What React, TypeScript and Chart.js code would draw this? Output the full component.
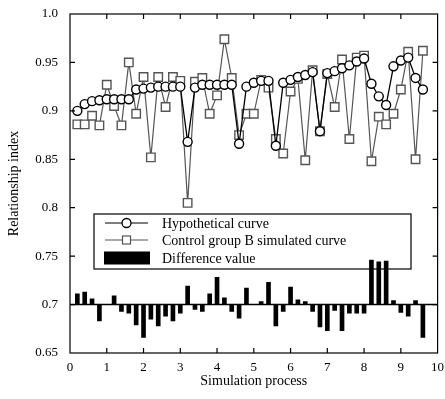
import { useEffect, useRef } from 'react';
import { Chart, registerables } from 'chart.js';

Chart.register(...registerables);

// ---- data ----
const xValues = [
  0.2, 0.4, 0.6, 0.8, 1.0, 1.2, 1.4, 1.6, 1.8, 2.0, 2.2, 2.4,
  2.6, 2.8, 3.0, 3.2, 3.4, 3.6, 3.8, 4.0, 4.2, 4.4, 4.6, 4.8,
  5.0, 5.2, 5.4, 5.6, 5.8, 6.0, 6.2, 6.4, 6.6, 6.8, 7.0, 7.2,
  7.4, 7.6, 7.8, 8.0, 8.2, 8.4, 8.6, 8.8, 9.0, 9.2, 9.4, 9.6,
];

const hypothetical = [
  0.900, 0.907, 0.910, 0.911, 0.912, 0.912, 0.912, 0.912, 0.922, 0.923, 0.924, 0.925,
  0.925, 0.925, 0.925, 0.868, 0.924, 0.927, 0.927, 0.927, 0.927, 0.927, 0.866, 0.925,
  0.929, 0.931, 0.931, 0.864, 0.929, 0.932, 0.935, 0.937, 0.940, 0.879, 0.939, 0.941,
  0.944, 0.947, 0.951, 0.954, 0.928, 0.915, 0.906, 0.946, 0.952, 0.955, 0.934, 0.922,
];

const controlB = [
  0.886, 0.886, 0.895, 0.885, 0.927, 0.905, 0.885, 0.950, 0.897, 0.935, 0.852, 0.935,
  0.904, 0.935, 0.931, 0.805, 0.930, 0.934, 0.897, 0.916, 0.974, 0.934, 0.875, 0.897,
  0.897, 0.932, 0.924, 0.871, 0.856, 0.920, 0.933, 0.849, 0.942, 0.879, 0.938, 0.904,
  0.953, 0.871, 0.955, 0.957, 0.848, 0.894, 0.886, 0.897, 0.922, 0.961, 0.850, 0.962,
];

const difference = [
  0.711, 0.713, 0.706, 0.683, 0.700, 0.709, 0.693, 0.691, 0.679, 0.666, 0.685, 0.678,
  0.688, 0.683, 0.691, 0.719, 0.695, 0.693, 0.711, 0.728, 0.707, 0.693, 0.686, 0.717,
  0.700, 0.703, 0.723, 0.678, 0.693, 0.718, 0.705, 0.703, 0.693, 0.677, 0.673, 0.694,
  0.673, 0.691, 0.691, 0.691, 0.746, 0.744, 0.745, 0.704, 0.692, 0.688, 0.704, 0.666,
];

const BASELINE = 0.7;

const xTickLabels = ['0', '1', '2', '3', '4', '5', '6', '7', '8', '9', '10'];
const yTickLabels = ['0.65', '0.7', '0.75', '0.8', '0.85', '0.9', '0.95', '1.0'];

const seriesLabels = ['Hypothetical curve', 'Control group B simulated curve', 'Difference value'];
const xTitle = 'Simulation process';
const yTitle = 'Relationship index';

const FONT = "'Liberation Serif', 'Times New Roman', serif";
const GRAY = '#555555';

// frame with inward ticks + baseline
const framePlugin = {
  id: 'frameTicks',
  beforeDatasetsDraw(chart: any) {
    const { ctx, chartArea: a, scales } = chart;
    const y0 = scales.y.getPixelForValue(BASELINE);
    ctx.save();
    ctx.strokeStyle = '#000';
    ctx.lineWidth = 1.5;
    ctx.beginPath();
    ctx.moveTo(a.left, y0);
    ctx.lineTo(a.right, y0);
    ctx.stroke();
    ctx.restore();
  },
  afterDraw(chart: any) {
    const { ctx, chartArea: a, scales } = chart;
    const len = 5;
    ctx.save();
    ctx.strokeStyle = '#000';
    ctx.lineWidth = 1.2;
    ctx.strokeRect(a.left, a.top, a.right - a.left, a.bottom - a.top);
    ctx.beginPath();
    scales.x.ticks.forEach((t: any) => {
      const px = scales.x.getPixelForValue(t.value);
      if (px <= a.left + 1 || px >= a.right - 1) return;
      ctx.moveTo(px, a.bottom);
      ctx.lineTo(px, a.bottom - len);
      ctx.moveTo(px, a.top);
      ctx.lineTo(px, a.top + len);
    });
    scales.y.ticks.forEach((t: any) => {
      const py = scales.y.getPixelForValue(t.value);
      if (py <= a.top + 1 || py >= a.bottom - 1) return;
      ctx.moveTo(a.left, py);
      ctx.lineTo(a.left + len, py);
      ctx.moveTo(a.right, py);
      ctx.lineTo(a.right - len, py);
    });
    ctx.stroke();
    ctx.restore();
  },
};

// legend box inside the plot (no fill: the tall bars show through it)
const legendPlugin = {
  id: 'boxLegend',
  beforeDatasetsDraw(chart: any) {
    const { ctx, chartArea: a } = chart;
    const left = a.left + 24;
    const top = a.top + 200;
    const w = 317;
    const h = 55;
    const ds = chart.data.datasets;
    ctx.save();
    ctx.strokeStyle = '#000';
    ctx.lineWidth = 1.2;
    ctx.strokeRect(left, top, w, h);

    const symL = left + 11;
    const symR = left + 54;
    const symC = (symL + symR) / 2;
    const textX = left + 68;
    const rows = [top + 9, top + 26, top + 44];

    // row 1: black line + circle
    ctx.strokeStyle = '#000';
    ctx.lineWidth = 1.2;
    ctx.beginPath();
    ctx.moveTo(symL, rows[0]);
    ctx.lineTo(symR, rows[0]);
    ctx.stroke();
    ctx.beginPath();
    ctx.arc(symC, rows[0], 4.5, 0, Math.PI * 2);
    ctx.fillStyle = '#fff';
    ctx.fill();
    ctx.lineWidth = 1.3;
    ctx.stroke();

    // row 2: gray line + square
    ctx.strokeStyle = GRAY;
    ctx.lineWidth = 1.2;
    ctx.beginPath();
    ctx.moveTo(symL, rows[1]);
    ctx.lineTo(symR, rows[1]);
    ctx.stroke();
    ctx.fillStyle = '#fff';
    ctx.fillRect(symC - 4, rows[1] - 4, 8, 8);
    ctx.strokeRect(symC - 4, rows[1] - 4, 8, 8);

    // row 3: black block
    ctx.fillStyle = '#000';
    ctx.fillRect(symL - 1, rows[2] - 6.5, 46, 13);

    ctx.fillStyle = '#000';
    ctx.font = `14px ${FONT}`;
    ctx.textBaseline = 'middle';
    ctx.textAlign = 'left';
    ctx.fillText(ds[0].label, textX, rows[0] + 1);
    ctx.fillText(ds[1].label, textX, rows[1] + 1);
    ctx.fillText(ds[2].label, textX, rows[2] + 1);
    ctx.restore();
  },
};

export default function App() {
  const canvasRef = useRef<HTMLCanvasElement | null>(null);

  useEffect(() => {
    if (!canvasRef.current) return;
    Chart.defaults.font.family = FONT;
    Chart.defaults.color = '#000';

    const chart = new Chart(canvasRef.current, {
      type: 'line',
      data: {
        datasets: [
          {
            type: 'line',
            label: seriesLabels[0],
            data: xValues.map((x, i) => ({ x, y: hypothetical[i] })),
            borderColor: '#000',
            borderWidth: 1.3,
            pointStyle: 'circle',
            pointRadius: 4.5,
            pointBorderWidth: 1.4,
            pointBackgroundColor: '#fff',
            pointBorderColor: '#000',
            tension: 0,
            order: 0,
          },
          {
            type: 'line',
            label: seriesLabels[1],
            data: xValues.map((x, i) => ({ x, y: controlB[i] })),
            borderColor: GRAY,
            borderWidth: 1.2,
            pointStyle: 'rect',
            pointRadius: 6,
            pointBorderWidth: 1.4,
            pointBackgroundColor: '#fff',
            pointBorderColor: GRAY,
            tension: 0,
            order: 1,
          },
          {
            type: 'bar',
            label: seriesLabels[2],
            data: xValues.map((x, i) => ({ x, y: [BASELINE, difference[i]] })) as any,
            backgroundColor: '#000',
            borderWidth: 0,
            barThickness: 4,
            order: 2,
          },
        ],
      },
      options: {
        responsive: true,
        maintainAspectRatio: false,
        animation: false,
        layout: { padding: { top: 14, right: 5, left: 0, bottom: 0 } },
        plugins: {
          legend: { display: false },
          tooltip: { enabled: false },
        },
        scales: {
          x: {
            type: 'linear',
            min: 0,
            max: 10,
            offset: false,
            grid: { display: false, drawTicks: false },
            border: { display: false },
            ticks: {
              stepSize: 1,
              padding: 7,
              maxRotation: 0,
              autoSkip: false,
              font: { size: 13, family: FONT },
              callback: (v: any) => {
                const i = Math.round(Number(v));
                return xTickLabels[i] ?? '';
              },
            },
            title: {
              display: true,
              text: xTitle,
              font: { size: 14, family: FONT },
              padding: { top: 0, bottom: 9 },
            },
            afterFit: (s: any) => {
              s.height = 46;
              s.paddingLeft = 0;
              s.paddingRight = 0;
            },
          },
          y: {
            type: 'linear',
            min: 0.65,
            max: 1.0,
            grid: { display: false, drawTicks: false },
            border: { display: false },
            ticks: {
              stepSize: 0.05,
              padding: 12,
              autoSkip: false,
              font: { size: 13, family: FONT },
              callback: (v: any) => {
                const lbl = yTickLabels.find((l) => Math.abs(parseFloat(l) - Number(v)) < 1e-6);
                return lbl ?? '';
              },
            },
            title: {
              display: true,
              text: yTitle,
              font: { size: 14, family: FONT },
              padding: { top: 6, bottom: 0 },
            },
            afterFit: (s: any) => {
              s.width = 70;
              s.paddingTop = 0;
              s.paddingBottom = 0;
            },
          },
        },
      },
      plugins: [framePlugin, legendPlugin],
    });

    return () => chart.destroy();
  }, []);

  return (
    <div style={{ position: 'fixed', left: 0, top: 0, width: 445, height: 399, background: '#fff' }}>
      <canvas ref={canvasRef} />
    </div>
  );
}
